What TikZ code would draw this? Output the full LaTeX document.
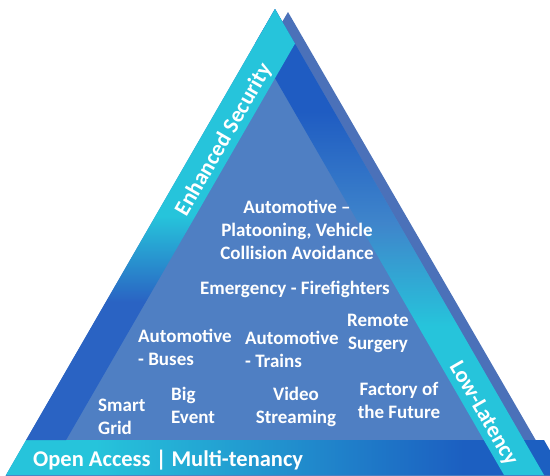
\documentclass[tikz,border=0pt]{standalone}
\usepackage{fontspec}
\setmainfont{Carlito}
\definecolor{cyanc}{HTML}{26C4DB}
\definecolor{dblue}{HTML}{2A63C3}
\definecolor{dblueR}{HTML}{1F5CC2}
\definecolor{midR}{HTML}{3F85CB}
\definecolor{dblueB}{HTML}{1C5FC1}
\definecolor{innerc}{HTML}{4F7FC3}
\definecolor{backc}{HTML}{4B71B9}
\pgfdeclareverticalshading{lbandsh}{100bp}{color(0bp)=(dblue); color(41bp)=(dblue); color(51bp)=(cyanc); color(100bp)=(cyanc)}
\pgfdeclareverticalshading{rbandsh}{100bp}{color(0bp)=(cyanc); color(41bp)=(cyanc); color(52bp)=(midR); color(64bp)=(dblueR); color(100bp)=(dblueR)}
\pgfdeclarehorizontalshading{bbandsh}{100bp}{color(0bp)=(cyanc); color(33bp)=(cyanc); color(66bp)=(dblueB); color(100bp)=(dblueB)}
\tikzset{
  lbl/.style={text=white, font=\bfseries\fontsize{19}{23}\selectfont, align=center, inner sep=0pt},
  bandlbl/.style={text=white, font=\bfseries\fontsize{22.5}{26}\selectfont, inner sep=0pt}
}
\begin{document}
\begin{tikzpicture}[x=1pt,y=-1pt]
\useasboundingbox (0,0) rectangle (550,475);
\begin{scope}
\clip (0,0) rectangle (550,475);
% back shadow triangle
\fill[backc] (288,12) -- (560,482) -- (10,482) -- cycle;
% front inner triangle
\fill[innerc] (275,9) -- (548,482) -- (2,482) -- cycle;
% bottom band
\shade[shading=bbandsh, shading angle=0] (26.1,440) -- (544,440) -- (564,475) -- (6,475) -- cycle;
% right band
\shade[shading=rbandsh, shading angle=0] (275,9) -- (544,475) -- (504,475) -- (255,43.6) -- cycle;
% left band
\shade[shading=lbandsh, shading angle=0] (275,9) -- (295,43.6) -- (66.1,440) -- (26.1,440) -- cycle;
\end{scope}
% labels
\node[lbl] (plat) at (297,230) {Automotive --\\Platooning, Vehicle\\Collision Avoidance};
\node[lbl] (emer) at (295,289) {Emergency - Firefighters};
\node[lbl, align=left, anchor=west] (buses) at (138,347) {Automotive\\- Buses};
\node[lbl, align=left, anchor=west] (trains) at (245,349) {Automotive\\- Trains};
\node[lbl] (surg) at (378,333) {Remote\\Surgery};
\node[lbl, align=left, anchor=west] (grid) at (98,417) {Smart\\Grid};
\node[lbl, align=left, anchor=west] (event) at (171,405) {Big\\Event};
\node[lbl] (video) at (296,407) {Video\\Streaming};
\node[lbl] (fact) at (399,400) {Factory of\\the Future};
\node[bandlbl, anchor=west] (open) at (33,460) {Open Access | Multi-tenancy};
\node[bandlbl, rotate=60] (sec) at (224,140) {Enhanced Security};
\node[bandlbl, rotate=-60] (lat) at (483,414) {Low-Latency};
\end{tikzpicture}
\end{document}
